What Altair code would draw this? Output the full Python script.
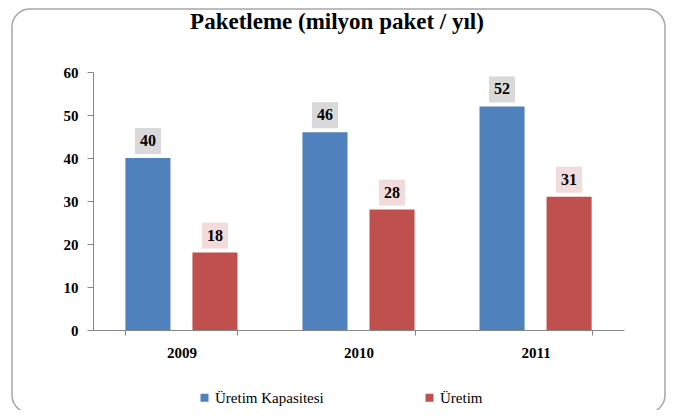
import altair as alt
import pandas as pd

years = ["2009", "2010", "2011"]
series = ["Üretim Kapasitesi", "Üretim"]
capacity = [40, 46, 52]
production = [18, 28, 31]
bar_colors = ["#4f81bd", "#c0504d"]
box_colors = ["#d9d9d9", "#f2dcdb"]
title_text = "Paketleme (milyon paket / yıl)"

rows = []
for i, y in enumerate(years):
    rows.append({"year": y, "series": series[0], "value": capacity[i]})
    rows.append({"year": y, "series": series[1], "value": production[i]})
df = pd.DataFrame(rows)

FONT = "Liberation Serif"

xenc = alt.X("year:N", title=None, sort=years,
             scale=alt.Scale(paddingInner=0.367, paddingOuter=0.183),
             axis=alt.Axis(labelAngle=0, labelFont=FONT, labelFontSize=15, labelFontWeight="bold",
                           labelColor="#000000", tickBand="extent", tickSize=5, tickColor="#868686",
                           domainColor="#868686", labelPadding=10))
xoff = alt.XOffset("series:N", sort=series, scale=alt.Scale(paddingInner=0.328, paddingOuter=0))
yenc = alt.Y("value:Q", title=None,
             scale=alt.Scale(domain=[0, 60]),
             axis=alt.Axis(values=[0, 10, 20, 30, 40, 50, 60], grid=False, labelFont=FONT,
                           labelFontSize=15, labelFontWeight="bold", labelColor="#000000",
                           tickSize=6, tickColor="#868686", domainColor="#868686", labelPadding=9))

base = alt.Chart(df).encode(x=xenc, xOffset=xoff, y=yenc)

bars = base.mark_bar().encode(
    color=alt.Color("series:N", sort=series,
                    scale=alt.Scale(domain=series, range=bar_colors),
                    legend=alt.Legend(title=None, orient="none", legendX=104, legendY=318,
                                      direction="horizontal", symbolType="square", symbolSize=64,
                                      labelFont=FONT, labelFontSize=15, labelColor="#000000",
                                      columnPadding=98, labelOffset=3, symbolStrokeWidth=0))
)

boxes = base.mark_point(shape="square", filled=True, size=680, opacity=1, yOffset=-17).encode(
    fill=alt.Fill("series:N", scale=alt.Scale(domain=series, range=box_colors), legend=None)
)

labels = base.mark_text(font=FONT, fontSize=16, fontWeight="bold", color="#000000",
                        yOffset=-17, baseline="middle").encode(text="value:Q")

one = pd.DataFrame({"t": [title_text]})
border = alt.Chart(one).mark_rect(
    filled=False, stroke="#a6a6a6", strokeWidth=1.5, cornerRadius=18
).encode(x=alt.value(-81), x2=alt.value(572), y=alt.value(-63), y2=alt.value(341))

title = alt.Chart(one).mark_text(font=FONT, fontSize=23, fontWeight="bold", color="#000000",
                                 align="center", baseline="middle").encode(
    x=alt.value(244), y=alt.value(-50), text="t:N")

chart = alt.layer(border, title, bars, boxes, labels).properties(
    width=531, height=258,
    autosize=alt.AutoSizeParams(type="none"),
    padding={"left": 85, "top": 64, "right": 45, "bottom": 80},
).configure_view(stroke=None)

chart.save("out.html", embed_options={"renderer": "svg", "actions": False})
